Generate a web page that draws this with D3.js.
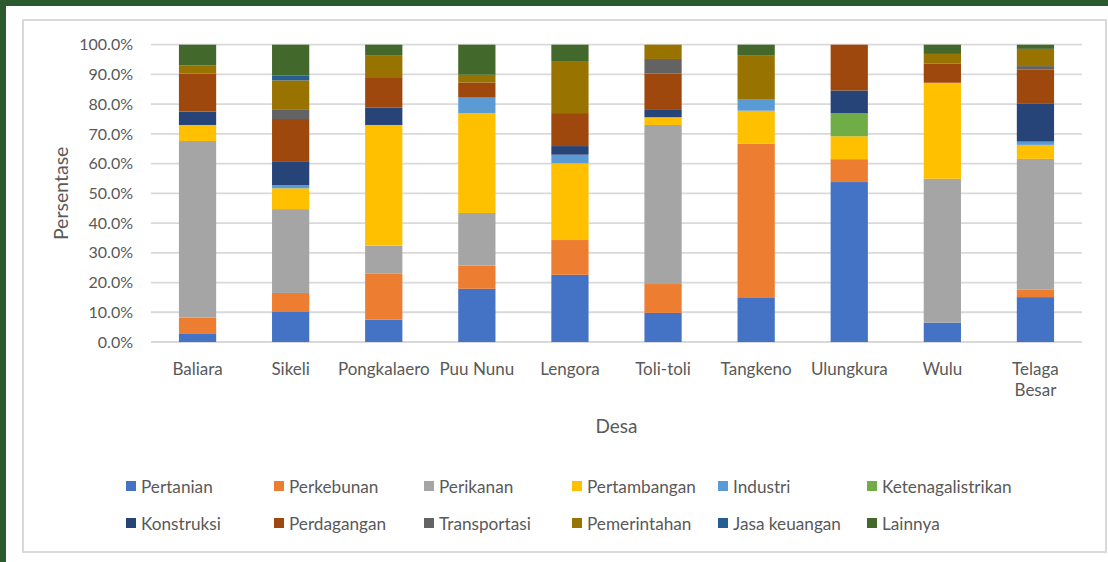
<!DOCTYPE html>
<html>
<head>
<meta charset="utf-8">
<script src="https://cdn.jsdelivr.net/npm/d3@7"></script>
<style>
  html, body { margin: 0; padding: 0; background: #fff; }
  svg { display: block; }
  text { font-family: Lato, "Open Sans", sans-serif; fill: #595959; }
</style>
</head>
<body>
<main></main>
<script>
// categories (desa)
const categories = ['Baliara', 'Sikeli', 'Pongkalaero', 'Puu Nunu', 'Lengora', 'Toli-toli', 'Tangkeno', 'Ulungkura', 'Wulu', 'Telaga Besar'];

// persentase per sektor, same order as categories
const pertanian = [2.7, 10.3, 7.5, 17.9, 22.6, 9.8, 14.8, 53.8, 6.5, 15.1];
const perkebunan = [5.5, 6.2, 15.6, 7.8, 11.7, 9.7, 51.9, 7.7, 0, 2.6];
const perikanan = [59.4, 28.2, 9.3, 17.7, 0, 53.5, 0, 0, 48.4, 43.9];
const pertambangan = [5.4, 7.0, 40.6, 33.6, 25.8, 2.6, 11.1, 7.7, 32.3, 4.7];
const industri = [0, 1.1, 0, 5.2, 2.9, 0, 3.7, 0, 0, 1.1];
const ketenagalistrikan = [0, 0, 0, 0, 0, 0, 0, 7.7, 0, 0];
const konstruksi = [4.5, 8.0, 5.9, 0, 2.9, 2.7, 0, 7.7, 0, 12.7];
const perdagangan = [12.8, 14.2, 9.9, 5.1, 11.1, 12.0, 0, 15.4, 6.5, 11.5];
const transportasi = [0, 3.3, 0, 0, 0, 4.9, 0, 0, 0, 1.2];
const pemerintahan = [2.8, 9.7, 7.5, 2.6, 17.5, 4.8, 14.8, 0, 3.2, 5.8];
const jasaKeuangan = [0, 1.6, 0, 0, 0, 0, 0, 0, 0, 0];
const lainnya = [6.9, 10.4, 3.7, 10.1, 5.5, 0, 3.7, 0, 3.1, 1.4];

const seriesNames = ['Pertanian', 'Perkebunan', 'Perikanan', 'Pertambangan', 'Industri', 'Ketenagalistrikan',
  'Konstruksi', 'Perdagangan', 'Transportasi', 'Pemerintahan', 'Jasa keuangan', 'Lainnya'];
const seriesValues = [pertanian, perkebunan, perikanan, pertambangan, industri, ketenagalistrikan,
  konstruksi, perdagangan, transportasi, pemerintahan, jasaKeuangan, lainnya];
const colors = ['#4472C4', '#ED7D31', '#A5A5A5', '#FFC000', '#5B9BD5', '#70AD47',
  '#264478', '#9E480E', '#636363', '#997300', '#255E91', '#43682B'];

const yTicks = [0, 0.1, 0.2, 0.3, 0.4, 0.5, 0.6, 0.7, 0.8, 0.9, 1.0];

const W = 1108;
const H = 562;
const plot = { left: 151, right: 1082, top: 44.7, bottom: 342 };

const rows = categories.map((c, i) => {
  const row = { desa: c };
  seriesNames.forEach((s, j) => { row[s] = seriesValues[j][i] / 100; });
  return row;
});

const stacked = d3.stack().keys(seriesNames)(rows);

const $svg = d3.select('main').append('svg').attr('width', W).attr('height', H);

// outer dark frame + chart border
$svg.append('rect').attr('x', 0).attr('y', 0).attr('width', W).attr('height', 6).attr('fill', '#2c5a2e');
$svg.append('rect').attr('x', 0).attr('y', 0).attr('width', 6).attr('height', H).attr('fill', '#2c5a2e');
$svg.append('rect')
  .attr('x', 23).attr('y', 20).attr('width', 1083).attr('height', 532)
  .attr('fill', 'none').attr('stroke', '#d9d9d9').attr('stroke-width', 2);

const scaleX = d3.scaleBand()
  .domain(categories)
  .range([plot.left, plot.right])
  .paddingInner(0.6)
  .paddingOuter(0.3);

const scaleY = d3.scaleLinear()
  .domain([0, 1])
  .range([plot.bottom, plot.top]);

// gridlines
$svg.append('g').attr('class', 'grid')
  .selectAll('line')
  .data(yTicks)
  .join('line')
  .attr('x1', plot.left).attr('x2', plot.right)
  .attr('y1', d => scaleY(d)).attr('y2', d => scaleY(d))
  .attr('stroke', '#d9d9d9').attr('stroke-width', 1.8);

const $axisY = $svg.append('g').attr('transform', `translate(${plot.left},0)`);
$axisY.call(d3.axisLeft(scaleY).tickValues(yTicks).tickFormat(d3.format('.1%')).tickSize(0).tickPadding(18));
$axisY.select('.domain').remove();
$axisY.selectAll('text').attr('font-size', 16).attr('fill', '#595959').style('font-family', 'Lato, sans-serif');

// bars
$svg.append('g').attr('class', 'bars')
  .selectAll('g')
  .data(stacked)
  .join('g')
  .attr('fill', (d, i) => colors[i])
  .selectAll('rect')
  .data(d => d)
  .join('rect')
  .attr('x', d => scaleX(d.data.desa))
  .attr('width', scaleX.bandwidth())
  .attr('y', d => scaleY(d[1]))
  .attr('height', d => scaleY(d[0]) - scaleY(d[1]));

// category labels
const $axisX = $svg.append('g').attr('transform', `translate(0,${plot.bottom})`);
$axisX.call(d3.axisBottom(scaleX).tickSize(0).tickPadding(0));
$axisX.select('.domain').remove();
$axisX.selectAll('text').each(function (d) {
  const $t = d3.select(this);
  $t.text(null).attr('y', 0).attr('dy', null)
    .attr('font-size', 17).attr('fill', '#595959').style('font-family', 'Lato, sans-serif');
  const words = d.split(' ');
  const lines = words.length > 1 && d.length > 10 ? words : [d];
  lines.forEach((w, i) => {
    $t.append('tspan').attr('x', 0).attr('y', 33 + i * 21).text(w);
  });
});

// axis titles
$svg.append('text')
  .attr('transform', `translate(68,${(plot.top + plot.bottom) / 2}) rotate(-90)`)
  .attr('text-anchor', 'middle')
  .attr('font-size', 19.5)
  .text('Persentase');

$svg.append('text')
  .attr('x', (plot.left + plot.right) / 2)
  .attr('y', 433)
  .attr('text-anchor', 'middle')
  .attr('font-size', 19)
  .text('Desa');

// legend
const legendX = [126, 274, 424, 572, 718, 867];
const legendY = [486.5, 523.5];
const $legend = $svg.append('g').attr('class', 'legend')
  .selectAll('g')
  .data(seriesNames)
  .join('g')
  .attr('transform', (d, i) => `translate(${legendX[i % 6]},${legendY[Math.floor(i / 6)]})`);

$legend.append('rect')
  .attr('x', 0).attr('y', -5.5).attr('width', 10).attr('height', 10)
  .attr('fill', (d, i) => colors[i]);

$legend.append('text')
  .attr('x', 15).attr('y', 0).attr('dy', '0.35em')
  .attr('font-size', 17.2)
  .text(d => d);
</script>
</body>
</html>
